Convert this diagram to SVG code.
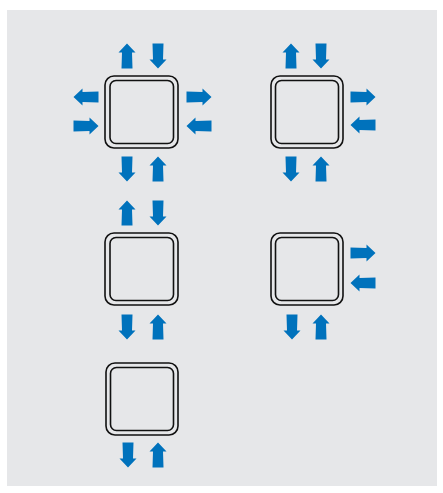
<svg xmlns="http://www.w3.org/2000/svg" xmlns:xlink="http://www.w3.org/1999/xlink" width="443" height="493" viewBox="0 0 443 493">
<style>
.bg{fill:#e6e7e9}
.outer{fill:none;stroke:#111;stroke-width:1.6}
.inner{fill:none;stroke:#111;stroke-width:1.6}
.arr{fill:#0072bc}
</style>
<defs>
<path id="a" class="arr" d="M0,-12.5 L8.5,-3.5 L5,-3.5 L5.5,12.5 L-5.5,12.5 L-5,-3.5 L-8.5,-3.5 Z"/>
</defs>
<rect class="bg" x="7" y="10" width="430" height="476"/>
<g id="node1">
<rect class="outer" x="105" y="76" width="73" height="72" rx="9"/>
<rect class="inner" x="110" y="80.5" width="63.5" height="63" rx="6"/>
</g>
<g id="node2">
<rect class="outer" x="271" y="76" width="72" height="72" rx="9"/>
<rect class="inner" x="275.5" y="80.5" width="63" height="63" rx="6"/>
</g>
<g id="node3">
<rect class="outer" x="105" y="233" width="73" height="72" rx="9"/>
<rect class="inner" x="110" y="237.5" width="63.5" height="63" rx="6"/>
</g>
<g id="node4">
<rect class="outer" x="271" y="233" width="72" height="72" rx="9"/>
<rect class="inner" x="275.5" y="237.5" width="63" height="63" rx="6"/>
</g>
<g id="node5">
<rect class="outer" x="106" y="363" width="72" height="72" rx="9"/>
<rect class="inner" x="110.5" y="367.5" width="63" height="63" rx="6"/>
</g>
<g id="connectors">
<!-- node1 -->
<use xlink:href="#a" transform="translate(127,56)"/>
<use xlink:href="#a" transform="translate(158,56) rotate(180)"/>
<use xlink:href="#a" transform="translate(86,97) rotate(-90)"/>
<use xlink:href="#a" transform="translate(86,126) rotate(90)"/>
<use xlink:href="#a" transform="translate(199,97) rotate(90)"/>
<use xlink:href="#a" transform="translate(199,126) rotate(-90)"/>
<use xlink:href="#a" transform="translate(127,169) rotate(180)"/>
<use xlink:href="#a" transform="translate(158,169)"/>
<!-- node2 -->
<use xlink:href="#a" transform="translate(291,56)"/>
<use xlink:href="#a" transform="translate(321,56) rotate(180)"/>
<use xlink:href="#a" transform="translate(363,97) rotate(90)"/>
<use xlink:href="#a" transform="translate(363,125) rotate(-90)"/>
<use xlink:href="#a" transform="translate(291,169) rotate(180)"/>
<use xlink:href="#a" transform="translate(321,169)"/>
<!-- node3 -->
<use xlink:href="#a" transform="translate(127,213)"/>
<use xlink:href="#a" transform="translate(158,213) rotate(180)"/>
<use xlink:href="#a" transform="translate(127,327) rotate(180)"/>
<use xlink:href="#a" transform="translate(158,327)"/>
<!-- node4 -->
<use xlink:href="#a" transform="translate(363,253) rotate(90)"/>
<use xlink:href="#a" transform="translate(363,283) rotate(-90)"/>
<use xlink:href="#a" transform="translate(292,327) rotate(180)"/>
<use xlink:href="#a" transform="translate(321,327)"/>
<!-- node5 -->
<use xlink:href="#a" transform="translate(128,455) rotate(180)"/>
<use xlink:href="#a" transform="translate(158,455)"/>
</g>
</svg>
